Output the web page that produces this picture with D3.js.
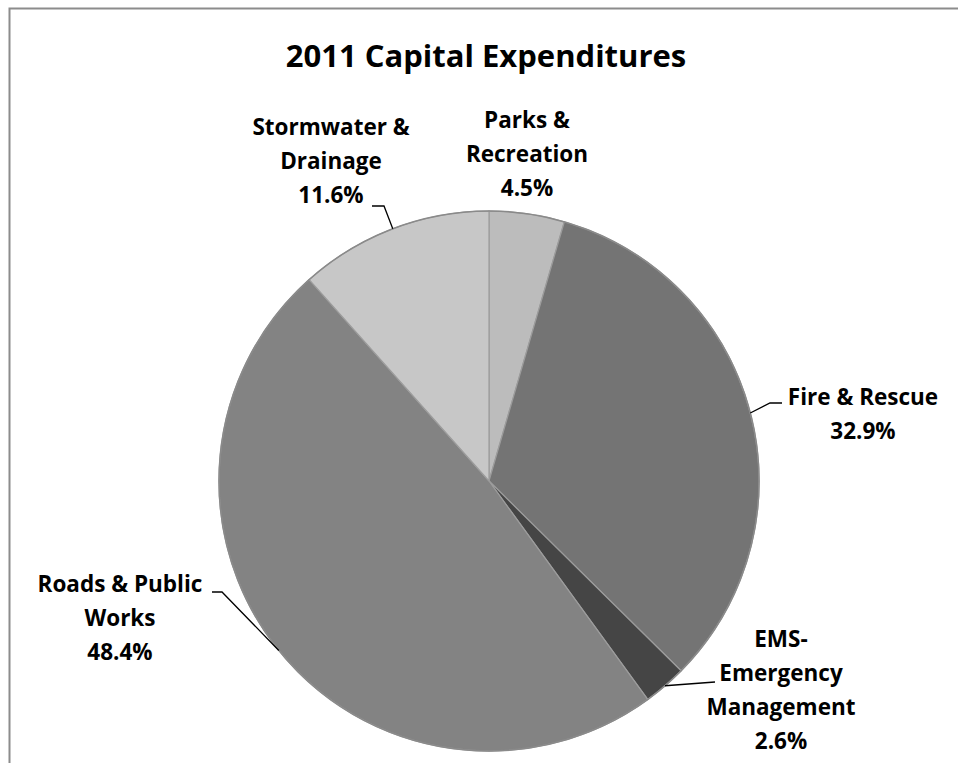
<!DOCTYPE html>
<html>
<head>
<meta charset="utf-8">
<script src="https://cdn.jsdelivr.net/npm/d3@7/dist/d3.min.js"></script>
<style>
  html, body { margin: 0; padding: 0; background: #fff; }
  svg { display: block; }
  text { font-family: "Open Sans", Lato, sans-serif; font-weight: bold; fill: #000; }
</style>
</head>
<body>
<svg id="chart" width="958" height="763"></svg>
<script>
// Capital expenditure shares, clockwise from 12 o'clock
const categories = ["Parks & Recreation", "Fire & Rescue", "EMS-Emergency Management", "Roads & Public Works", "Stormwater & Drainage"];
const shares = [4.5, 32.9, 2.6, 48.4, 11.6];
const labelLines = [
  ["Parks &", "Recreation"],
  ["Fire & Rescue"],
  ["EMS-", "Emergency", "Management"],
  ["Roads & Public", "Works"],
  ["Stormwater &", "Drainage"]
];
const sliceColors = ["#a9a9a9", "#686868", "#3e3e3e", "#767676", "#b3b3b3"];
const title = "2011 Capital Expenditures";

// Layout
const W = 958, H = 763;
const cx = 489, cy = 481, R = 270;
const lineH = 34, labelSize = 22.5;
// label block centre x, first baseline y, and leader elbow / end (null = no leader)
const labelLayout = [
  { x: 527, y: 128, leader: null },
  { x: 863, y: 405, leader: [[770, 403], [782, 403]] },
  { x: 781, y: 647, leader: [[715, 682]] },
  { x: 120, y: 592, leader: [[222, 592], [212, 592]] },
  { x: 331, y: 135, leader: [[384, 206], [372, 206]] }
];

const svg = d3.select("#chart");
const defs = svg.append("defs");

// chart frame (top and left edges visible)
svg.append("rect")
  .attr("x", 9.5).attr("y", 8.5)
  .attr("width", W + 20).attr("height", H + 20)
  .attr("fill", "none").attr("stroke", "#8c8c8c").attr("stroke-width", 2);

svg.append("text")
  .attr("x", 486).attr("y", 67)
  .attr("text-anchor", "middle")
  .style("font-size", "31px")
  .text(title);

const data = categories.map((c, i) => ({ name: c, value: shares[i], lines: labelLines[i], color: sliceColors[i], layout: labelLayout[i] }));

const pie = d3.pie().value(d => d.value).sort(null);
const arcs = pie(data);
const arc = d3.arc().innerRadius(0).outerRadius(R);

// per-slice soft bevel shading toward the rim
arcs.forEach((a, i) => {
  const c = d3.color(a.data.color);
  const g = defs.append("radialGradient")
    .attr("id", "sg" + i)
    .attr("gradientUnits", "userSpaceOnUse")
    .attr("cx", cx).attr("cy", cy).attr("r", R);
  g.append("stop").attr("offset", "0%").attr("stop-color", c);
  g.append("stop").attr("offset", "94%").attr("stop-color", c);
  g.append("stop").attr("offset", "98%").attr("stop-color", c.darker(0.2));
  g.append("stop").attr("offset", "100%").attr("stop-color", c.brighter(0.3));
});

const gPie = svg.append("g").attr("transform", `translate(${cx},${cy})`);

gPie.selectAll("path.slice")
  .data(arcs)
  .join("path")
  .attr("class", "slice")
  .attr("d", arc)
  .attr("fill", (d, i) => `url(#sg${i})`)
  .attr("stroke", "#9c9c9c")
  .attr("stroke-width", 1.2);

// thin outer rim
gPie.append("circle")
  .attr("r", R)
  .attr("fill", "none")
  .attr("stroke", "#8a8a8a")
  .attr("stroke-width", 1.5);

// labels
const gLab = svg.append("g");
arcs.forEach(a => {
  const L = a.data.layout;
  const t = gLab.append("text")
    .attr("text-anchor", "middle")
    .style("font-size", labelSize + "px");
  const lines = a.data.lines.concat([a.data.value.toFixed(1) + "%"]);
  lines.forEach((s, k) => {
    t.append("tspan").attr("x", L.x).attr("y", L.y + k * lineH).text(s);
  });
  if (L.leader) {
    const mid = (a.startAngle + a.endAngle) / 2;
    const edge = [cx + R * Math.sin(mid), cy - R * Math.cos(mid)];
    const pts = [edge].concat(L.leader);
    gLab.append("path")
      .attr("d", d3.line()(pts))
      .attr("fill", "none")
      .attr("stroke", "#000")
      .attr("stroke-width", 1.3);
  }
});
</script>
</body>
</html>
